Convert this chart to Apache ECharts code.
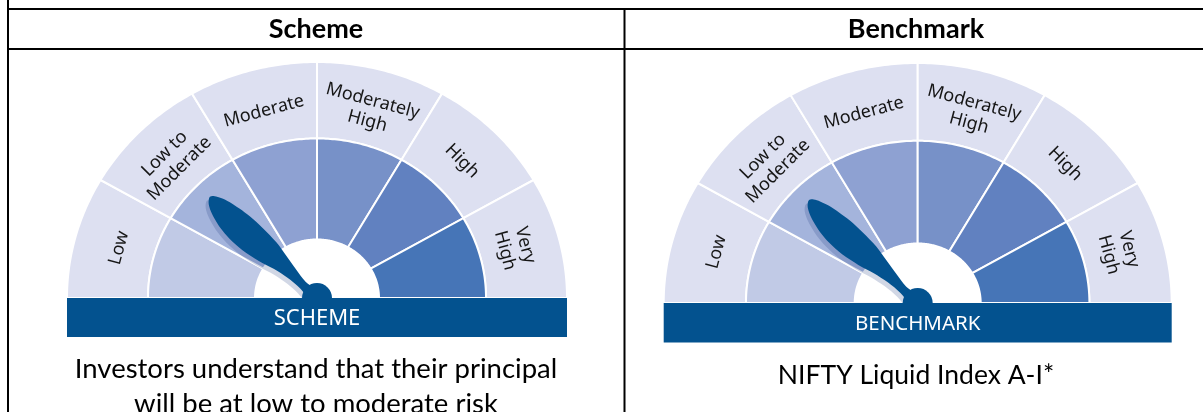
<!DOCTYPE html>
<html>
<head>
<meta charset="utf-8">
<title>Riskometer</title>
<script src="https://cdn.jsdelivr.net/npm/echarts@6/dist/echarts.min.js"></script>
<style>
  html, body { margin: 0; padding: 0; background: #fff; }
  #main { width: 1203px; height: 412px; }
</style>
</head>
<body>
<div id="main"></div>
<script>
// risk bands, left to right
const riskLevels = ['Low', 'Low to\nModerate', 'Moderate', 'Moderately\nHigh', 'High', 'Very\nHigh'];
// needle position on the 0..6 band scale (1.5 = middle of "Low to Moderate")
const schemeRisk = [1.5];
const benchmarkRisk = [1.5];
const panelTitles = ['Scheme', 'Benchmark'];
const bannerLabels = ['SCHEME', 'BENCHMARK'];
const captionScheme = ['Investors understand that their principal', 'will be at low to moderate risk'];
const captionBenchmark = ['NIFTY Liquid Index A-I*'];

// look
const bandColors = ['#c1cae6', '#a4b4dc', '#8ea1d2', '#7791c8', '#6181c0', '#4675b7'];
const outerBand = '#dde0f1';
const navy = '#03528f';
const R_OUT = 1, R_MID = 0.676, R_IN = 0.248, R_LABEL = 0.82, NEEDLE_LEN = 0.606;
const BANNER = 0.165;
// needle outline: [fraction along, half width left, half width right] in px
const needleProfile = [
  [0, 5.5, 5.5], [0.13, 4.5, 4], [0.24, 5.5, 6.5], [0.35, 8.5, 9.6], [0.46, 13, 12.6],
  [0.59, 16.5, 13.6], [0.71, 17, 13.3], [0.8, 15.5, 11.8], [0.88, 12.5, 9.7],
  [0.94, 9, 6.8], [0.98, 5, 3.8], [1, 0, 0]
];

const chart = echarts.init(document.getElementById('main'));

function polar(api, r, a) {
  return api.coord([r * Math.cos(a), r * Math.sin(a)]);
}

function ring(api, r0, r1, a0, a1) {
  const pts = [];
  const n = 40;
  for (let k = 0; k <= n; k++) pts.push(polar(api, r1, a0 + (a1 - a0) * k / n));
  for (let k = n; k >= 0; k--) pts.push(polar(api, r0, a0 + (a1 - a0) * k / n));
  return pts;
}

function renderSegment(params, api) {
  const i = api.value(0);
  const step = Math.PI / riskLevels.length;
  const a0 = Math.PI - i * step, a1 = a0 - step, am = a0 - step / 2;
  const lp = polar(api, R_LABEL, am);
  return {
    type: 'group',
    children: [
      { type: 'polygon', shape: { points: ring(api, R_MID, R_OUT, a0, a1) },
        style: { fill: outerBand, stroke: '#fff', lineWidth: 2 } },
      { type: 'polygon', shape: { points: ring(api, R_IN, R_MID, a0, a1) },
        style: { fill: bandColors[i], stroke: '#fff', lineWidth: 2 } },
      { type: 'text', x: lp[0], y: lp[1], rotation: am - Math.PI / 2,
        style: { text: riskLevels[i], fill: '#161616', font: '18px "Noto Sans"',
                 align: 'center', verticalAlign: 'middle', lineHeight: 21 } }
    ]
  };
}

function renderNeedle(banner, bannerFont) {
  return function (params, api) {
    const v = api.value(0);
    const a = Math.PI - v * Math.PI / riskLevels.length;
    const o = api.coord([0, 0]);
    const tip = polar(api, NEEDLE_LEN, a);
    const dx = tip[0] - o[0], dy = tip[1] - o[1];
    const len = Math.hypot(dx, dy);
    const ux = dx / len, uy = dy / len, nx = -uy, ny = ux;
    const left = [], right = [];
    needleProfile.forEach(function (p) {
      const cx = o[0] + ux * len * p[0], cy = o[1] + uy * len * p[0];
      left.push([cx - nx * p[1], cy - ny * p[1]]);
      right.push([cx + nx * p[2], cy + ny * p[2]]);
    });
    const outline = right.concat(left.slice(0, -1).reverse());
    const shadow = outline.map(function (q) { return [q[0] - 3, q[1] + 4]; });
    const b0 = api.coord([-1, 0]), b1 = api.coord([1, -BANNER]);
    return {
      type: 'group',
      children: [
        { type: 'polygon', shape: { points: shadow, smooth: 0.3 }, style: { fill: 'rgba(25,55,125,0.2)' } },
        { type: 'polygon', shape: { points: outline, smooth: 0.3 }, style: { fill: navy } },
        { type: 'circle', shape: { cx: o[0], cy: o[1], r: 15 }, style: { fill: navy } },
        { type: 'rect', shape: { x: b0[0], y: b0[1], width: b1[0] - b0[0], height: b1[1] - b0[1] },
          style: { fill: navy } },
        { type: 'text', x: (b0[0] + b1[0]) / 2, y: (b0[1] + b1[1]) / 2 + 1,
          style: { text: banner, fill: '#fff', font: bannerFont, align: 'center', verticalAlign: 'middle' } }
      ]
    };
  };
}

const segData = riskLevels.map(function (_, i) { return [i]; });

function tableText(text, x, y, font) {
  return { type: 'text', x: x, y: y,
    style: { text: text, fill: '#000', font: font, align: 'center', verticalAlign: 'middle' } };
}
function hline(x1, x2, y) {
  return { type: 'line', shape: { x1: x1, y1: y, x2: x2, y2: y }, style: { stroke: '#000', lineWidth: 2 } };
}
function vline(x, y1, y2) {
  return { type: 'line', shape: { x1: x, y1: y1, x2: x, y2: y2 }, style: { stroke: '#000', lineWidth: 2 } };
}

const graphics = [
  hline(7, 1203, 9), hline(7, 1203, 49), vline(8, 0, 412), vline(624.5, 9, 412),
  tableText(panelTitles[0], 316, 29, 'bold 27px Lato'),
  tableText(panelTitles[1], 916, 29, 'bold 27px Lato')
];
captionScheme.forEach(function (t, k) { graphics.push(tableText(t, 316, 369 + k * 35, '27.5px Lato')); });
captionBenchmark.forEach(function (t, k) { graphics.push(tableText(t, 916, 375 + k * 35, '26.5px Lato')); });

chart.setOption({
  backgroundColor: '#fff',
  animation: false,
  grid: [
    { left: 67, top: 62, width: 500, height: 236 * (1 + BANNER) },
    { left: 663.7, top: 63, width: 508, height: 240 * (1 + BANNER) }
  ],
  xAxis: [
    { type: 'value', gridIndex: 0, min: -1, max: 1, show: false },
    { type: 'value', gridIndex: 1, min: -1, max: 1, show: false }
  ],
  yAxis: [
    { type: 'value', gridIndex: 0, min: -BANNER, max: 1, show: false },
    { type: 'value', gridIndex: 1, min: -BANNER, max: 1, show: false }
  ],
  graphic: graphics,
  series: [
    { type: 'custom', xAxisIndex: 0, yAxisIndex: 0, data: segData, renderItem: renderSegment, clip: false, silent: true },
    { type: 'custom', xAxisIndex: 1, yAxisIndex: 1, data: segData, renderItem: renderSegment, clip: false, silent: true },
    { type: 'custom', xAxisIndex: 0, yAxisIndex: 0, data: [schemeRisk], renderItem: renderNeedle(bannerLabels[0], '22px "Noto Sans"'), clip: false, silent: true, z: 3 },
    { type: 'custom', xAxisIndex: 1, yAxisIndex: 1, data: [benchmarkRisk], renderItem: renderNeedle(bannerLabels[1], '20.5px "Noto Sans"'), clip: false, silent: true, z: 3 }
  ]
});
</script>
</body>
</html>
